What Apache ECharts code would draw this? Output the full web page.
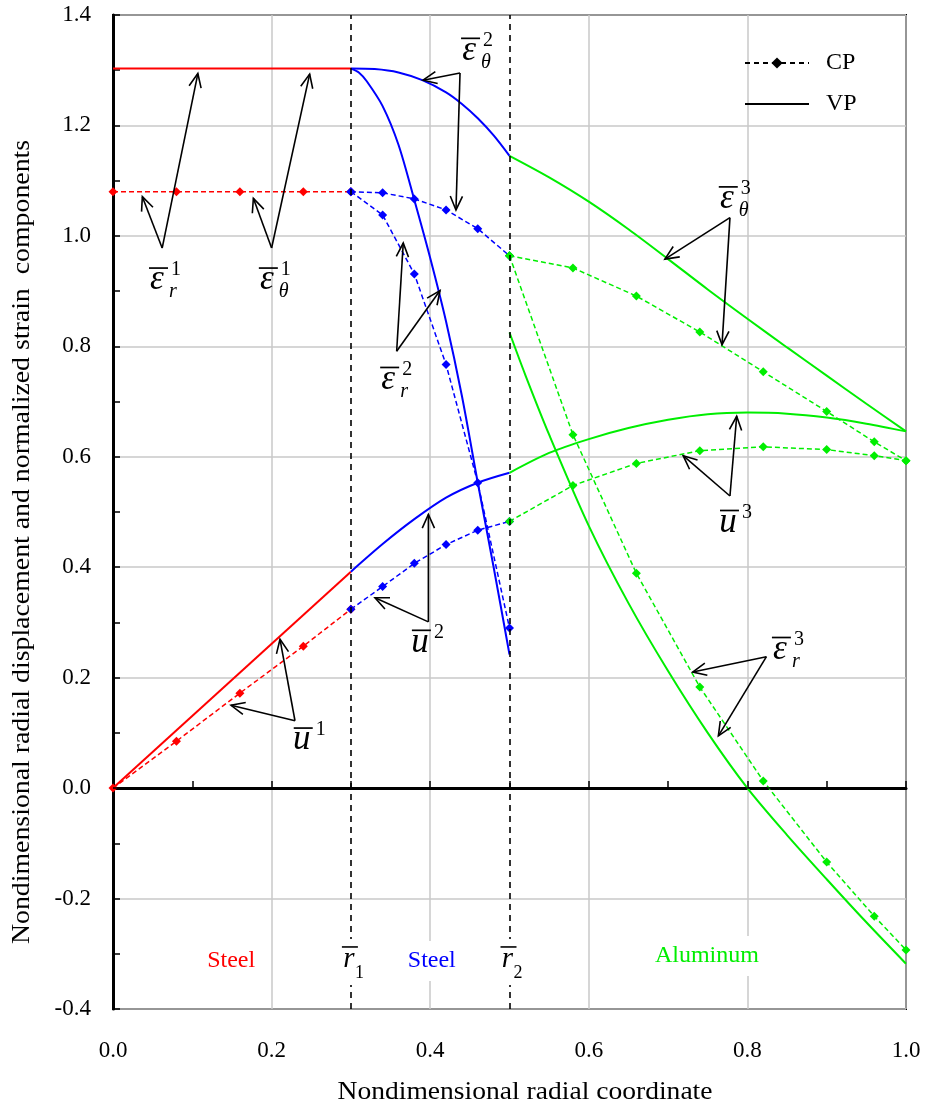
<!DOCTYPE html>
<html>
<head>
<meta charset="utf-8">
<script src="https://cdn.jsdelivr.net/npm/echarts@6/dist/echarts.min.js"></script>
<style>html,body{margin:0;padding:0;background:#fff}#chart{width:928px;height:1108px}</style>
</head>
<body>
<div id="chart"></div>
<script>
// ---------- DATA ----------
const xTickLabels = ['0.0','0.2','0.4','0.6','0.8','1.0'];
const interfaces = [0.3, 0.5];

// Region 1 (inner steel)
const r1VP_x = [0, 0.30];
const eps1VP = [1.303, 1.303];
const u1VP = [0, 0.392];
const r1CP_x = [0, 0.08, 0.16, 0.24, 0.30];
const eps1CP = [1.08, 1.08, 1.08, 1.08, 1.08];
const u1CP = [0, 0.085, 0.172, 0.257, 0.324];

// Region 2 (outer steel)
const r2CP_x = [0.30, 0.34, 0.38, 0.42, 0.46, 0.50];
const epsTheta2CP = [1.08, 1.078, 1.067, 1.047, 1.013, 0.964];
const epsR2CP = [1.08, 1.038, 0.931, 0.767, 0.553, 0.29];
const u2CP = [0.324, 0.365, 0.407, 0.441, 0.467, 0.483];
const epsTheta2VP_x = [0.30, 0.33, 0.36, 0.39, 0.42, 0.44, 0.46, 0.48, 0.50];
const epsTheta2VP = [1.303, 1.302, 1.296, 1.282, 1.260, 1.239, 1.213, 1.182, 1.145];
const epsR2VP_x = [0.30, 0.31, 0.32, 0.34, 0.36, 0.38, 0.40, 0.42, 0.44, 0.46, 0.48, 0.50];
const epsR2VP = [1.303, 1.296, 1.280, 1.235, 1.165, 1.065, 0.960, 0.845, 0.710, 0.553, 0.400, 0.242];
const u2VP_x = [0.30, 0.34, 0.38, 0.42, 0.46, 0.50];
const u2VP = [0.392, 0.442, 0.487, 0.526, 0.553, 0.571];

// Region 3 (aluminum)
const r3CP_x = [0.50, 0.58, 0.66, 0.74, 0.82, 0.90, 0.96, 1.0];
const epsTheta3CP = [0.964, 0.942, 0.891, 0.826, 0.754, 0.682, 0.627, 0.593];
const epsR3CP = [0.964, 0.64, 0.389, 0.183, 0.013, -0.134, -0.232, -0.293];
const u3CP = [0.483, 0.548, 0.588, 0.611, 0.618, 0.613, 0.602, 0.593];
const r3VP_x = [0.50, 0.55, 0.60, 0.65, 0.70, 0.75, 0.80, 0.85, 0.90, 0.95, 1.0];
const epsTheta3VP = [1.145, 1.106, 1.062, 1.012, 0.958, 0.903, 0.850, 0.798, 0.747, 0.696, 0.646];
const u3VP = [0.571, 0.607, 0.632, 0.652, 0.667, 0.677, 0.680, 0.678, 0.671, 0.660, 0.646];
const epsR3VP_x = [0.50, 0.52, 0.55, 0.60, 0.65, 0.70, 0.75, 0.80, 0.85, 0.90, 0.95, 1.0];
const epsR3VP = [0.825, 0.748, 0.640, 0.475, 0.335, 0.212, 0.100, 0.0, -0.085, -0.165, -0.243, -0.318];

// Annotations (label glyph, subscript, superscript, vertex, two arrow heads, label position)
const annBase = ['ε', 'ε', 'ε', 'ε', 'u', 'u', 'ε', 'u', 'ε'];
const annSub = ['r', 'θ', 'θ', 'r', '', '', 'θ', '', 'r'];
const annSup = ['1', '1', '2', '2', '2', '1', '3', '3', '3'];
const annVertex = [[0.062, 0.978], [0.200, 0.978], [0.4376, 1.295], [0.3577, 0.791], [0.3977, 0.301], [0.2295, 0.122], [0.778, 1.033], [0.778, 0.529], [0.824, 0.238]];
const annHeadA = [[0.037, 1.071], [0.177, 1.068], [0.391, 1.282], [0.366, 0.987], [0.3977, 0.4955], [0.2106, 0.2695], [0.696, 0.958], [0.7865, 0.6733], [0.731, 0.2103]];
const annHeadB = [[0.107, 1.294], [0.248, 1.293], [0.4325, 1.047], [0.4124, 0.901], [0.3304, 0.3448], [0.1488, 0.150], [0.768, 0.803], [0.719, 0.602], [0.7634, 0.0946]];
const annText = [[0.0555, 0.920], [0.194, 0.920], [0.449, 1.336], [0.347, 0.740], [0.387, 0.264], [0.238, 0.087], [0.774, 1.067], [0.7755, 0.481], [0.841, 0.251]];

// Region labels
const regionNames = ['Steel', 'Steel', 'Aluminum'];
const regionColors = ['#ff0000', '#0000ff', '#00ee00'];
const regionPos = [[0.149, -0.313], [0.402, -0.313], [0.749, -0.304]];
const radiusLabelSub = ['1', '2'];
const radiusLabelPos = [[0.30, -0.313], [0.50, -0.313]];

// ---------- CHART ----------
const SERIF = '"Liberation Serif", "Times New Roman", serif';
const RED = '#ff0000', BLUE = '#0000ff', GREEN = '#00ee00';
const pairs = (xs, ys) => xs.map((x, i) => [x, ys[i]]);

function vp(xs, ys, color) {
  return { type: 'line', data: pairs(xs, ys), symbol: 'none', smooth: 0.3,
    lineStyle: { color, width: 2 }, itemStyle: { color }, z: 3, silent: true };
}
function cp(xs, ys, color) {
  return { type: 'line', data: pairs(xs, ys), symbol: 'diamond', symbolSize: 9, showAllSymbol: true,
    lineStyle: { color, width: 1.5, type: [5, 3] }, itemStyle: { color }, z: 4, silent: true };
}

const chart = echarts.init(document.getElementById('chart'), null, { renderer: 'canvas' });

function arrowHead(p, q) {
  const dx = q[0] - p[0], dy = q[1] - p[1];
  const len = Math.sqrt(dx * dx + dy * dy);
  const ux = dx / len, uy = dy / len;
  const L = 15, a = 0.42;
  const c = Math.cos(a), s = Math.sin(a);
  const l = [q[0] - L * (ux * c - uy * s), q[1] - L * (uy * c + ux * s)];
  const r = [q[0] - L * (ux * c + uy * s), q[1] - L * (uy * c - ux * s)];
  return [l, q, r];
}

const annSeries = {
  type: 'custom', silent: true, z: 10, clip: false,
  data: annVertex,
  encode: { x: 0, y: 1 },
  renderItem: function (params, api) {
    const i = params.dataIndex;
    const v = api.coord(annVertex[i]);
    const a = api.coord(annHeadA[i]);
    const b = api.coord(annHeadB[i]);
    const t = api.coord(annText[i]);
    const ls = { stroke: '#000', lineWidth: 1.6, fill: null };
    const children = [
      { type: 'polyline', shape: { points: [v, a] }, style: ls },
      { type: 'polyline', shape: { points: [v, b] }, style: ls },
      { type: 'polyline', shape: { points: arrowHead(v, a) }, style: ls },
      { type: 'polyline', shape: { points: arrowHead(v, b) }, style: ls },
      { type: 'text', x: t[0], y: t[1], style: { text: annBase[i], fill: '#000',
        font: 'italic 35px ' + SERIF, align: 'center', verticalAlign: 'middle' } },
      { type: 'line', shape: { x1: t[0] - 8, y1: t[1] - 12, x2: t[0] + 11, y2: t[1] - 12 },
        style: { stroke: '#000', lineWidth: 1.7 } },
      { type: 'text', x: t[0] + 14, y: t[1] - 10, style: { text: annSup[i], fill: '#000',
        font: '20px ' + SERIF, align: 'left', verticalAlign: 'middle' } }
    ];
    if (annSub[i]) {
      children.push({ type: 'text', x: t[0] + 12, y: t[1] + 12, style: { text: annSub[i], fill: '#000',
        font: 'italic 20px ' + SERIF, align: 'left', verticalAlign: 'middle' } });
    }
    return { type: 'group', children };
  }
};

const regionSeries = {
  type: 'custom', silent: true, z: 9, clip: false,
  data: regionPos,
  encode: { x: 0, y: 1 },
  renderItem: function (params, api) {
    const i = params.dataIndex;
    const p = api.coord(regionPos[i]);
    return { type: 'text', x: p[0], y: p[1], style: { text: regionNames[i], fill: regionColors[i],
      font: '24px ' + SERIF, align: 'center', verticalAlign: 'middle',
      backgroundColor: '#fff', padding: [8, 12, 8, 12] } };
  }
};

const radiusSeries = {
  type: 'custom', silent: true, z: 9, clip: false,
  data: radiusLabelPos,
  encode: { x: 0, y: 1 },
  renderItem: function (params, api) {
    const i = params.dataIndex;
    const p = api.coord(radiusLabelPos[i]);
    return { type: 'group', children: [
      { type: 'rect', shape: { x: p[0] - 14, y: p[1] - 22, width: 30, height: 46 }, style: { fill: '#fff' } },
      { type: 'text', x: p[0] - 2, y: p[1] - 2, style: { text: 'r', fill: '#000', font: 'italic 29px ' + SERIF,
        align: 'center', verticalAlign: 'middle' } },
      { type: 'line', shape: { x1: p[0] - 9, y1: p[1] - 14, x2: p[0] + 7, y2: p[1] - 14 }, style: { stroke: '#000', lineWidth: 1.6 } },
      { type: 'text', x: p[0] + 4, y: p[1] + 12, style: { text: radiusLabelSub[i], fill: '#000', font: '18px ' + SERIF,
        align: 'left', verticalAlign: 'middle' } }
    ] };
  }
};

const option = {
  animation: false,
  backgroundColor: '#fff',
  grid: { left: 113, right: 22, top: 15, bottom: 99, show: true, borderColor: '#000', borderWidth: 2, backgroundColor: 'transparent' },
  legend: {
    data: ['CP', { name: 'VP', itemStyle: { opacity: 0 } }],
    orient: 'vertical', left: 744, top: 51, padding: 0, itemWidth: 64, itemHeight: 14, itemGap: 17,
    textStyle: { fontFamily: SERIF, fontSize: 24, color: '#000', padding: [0, 0, 0, 12] },
    selectedMode: false
  },
  xAxis: {
    type: 'value', min: 0, max: 1, interval: 0.2,
    axisLine: { show: true, lineStyle: { color: '#000', width: 3 } },
    axisTick: { show: true, inside: true, length: 7, lineStyle: { color: '#000', width: 1.5 } },
    minorTick: { show: true, splitNumber: 2, length: 7, lineStyle: { color: '#000', width: 1.5 } },
    splitLine: { show: true, lineStyle: { color: '#c8c8c8', width: 1.5 } },
    axisLabel: { margin: 30, fontFamily: SERIF, fontSize: 23, color: '#000',
      formatter: v => xTickLabels[Math.round(v / 0.2)] }
  },
  yAxis: {
    type: 'value', min: -0.4, max: 1.4, interval: 0.2,
    axisLine: { show: true, lineStyle: { color: '#000', width: 3 } },
    axisTick: { show: true, inside: true, length: 7, lineStyle: { color: '#000', width: 1.5 } },
    minorTick: { show: true, splitNumber: 2, length: 7, lineStyle: { color: '#000', width: 1.5 } },
    splitLine: { show: true, lineStyle: { color: '#c8c8c8', width: 1.5 } },
    axisLabel: { margin: 22, fontFamily: SERIF, fontSize: 23, color: '#000',
      formatter: v => v.toFixed(1) }
  },
  graphic: [
    { type: 'text', x: 525, y: 1092, scaleX: 1.06, style: { text: 'Nondimensional radial coordinate', fill: '#000',
      font: '26px ' + SERIF, align: 'center', verticalAlign: 'middle' } },
    { type: 'text', x: 22, y: 542, rotation: Math.PI / 2, scaleX: 1.07, style: { text: 'Nondimensional radial displacement and normalized strain  components', fill: '#000',
      font: '26px ' + SERIF, align: 'center', verticalAlign: 'middle' } }
  ],
  series: [
    { type: 'line', data: [], silent: true, z: 2,
      markLine: { silent: true, symbol: 'none', label: { show: false },
        data: [{ yAxis: 0, lineStyle: { color: '#000', width: 1.6, type: 'solid' } }]
          .concat(interfaces.map(x => ({ xAxis: x, lineStyle: { color: '#000', width: 1.6, type: [6, 5] } }))) } },
    { name: 'CP', type: 'line', data: [], symbol: 'diamond', symbolSize: 14, itemStyle: { color: '#000' },
      lineStyle: { color: '#000', width: 1.5, type: [5, 4] } },
    { name: 'VP', type: 'line', data: [], symbol: 'none', itemStyle: { color: '#000' },
      lineStyle: { color: '#000', width: 2.5 } },
    vp(r1VP_x, eps1VP, RED), vp(r1VP_x, u1VP, RED),
    cp(r1CP_x, eps1CP, RED), cp(r1CP_x, u1CP, RED),
    vp(epsTheta2VP_x, epsTheta2VP, BLUE), vp(epsR2VP_x, epsR2VP, BLUE), vp(u2VP_x, u2VP, BLUE),
    cp(r2CP_x, epsTheta2CP, BLUE), cp(r2CP_x, epsR2CP, BLUE), cp(r2CP_x, u2CP, BLUE),
    vp(r3VP_x, epsTheta3VP, GREEN), vp(epsR3VP_x, epsR3VP, GREEN), vp(r3VP_x, u3VP, GREEN),
    cp(r3CP_x, epsTheta3CP, GREEN), cp(r3CP_x, epsR3CP, GREEN), cp(r3CP_x, u3CP, GREEN),
    regionSeries, radiusSeries, annSeries
  ]
};
chart.setOption(option);
</script>
</body>
</html>
